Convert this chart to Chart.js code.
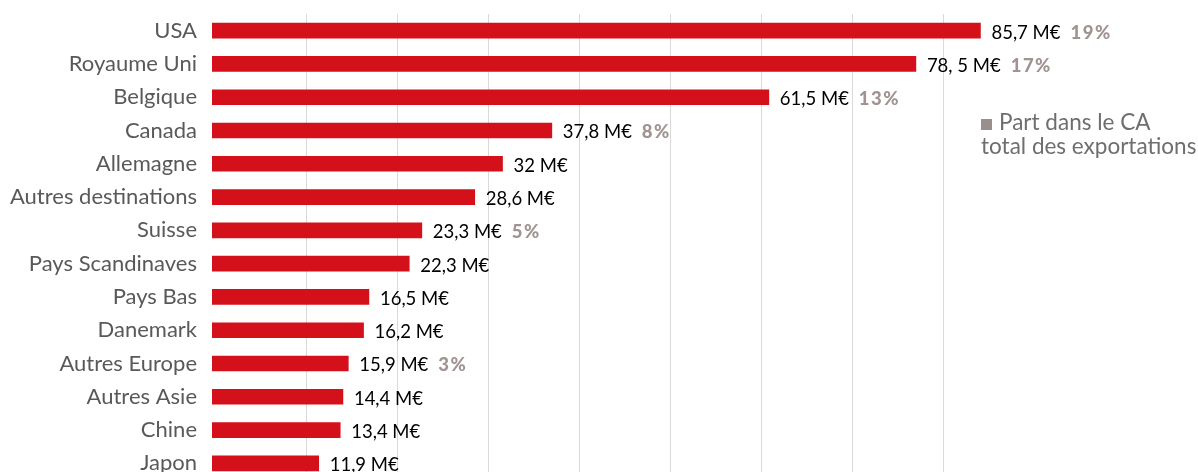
<!DOCTYPE html>
<html>
<head>
<meta charset="utf-8">
<script src="https://cdn.jsdelivr.net/npm/chart.js@4.4.1/dist/chart.umd.min.js"></script>
<style>
  html, body { margin: 0; padding: 0; background: #ffffff; overflow: hidden; }
  #wrap { position: relative; width: 1198px; height: 472px; overflow: hidden; }
  #c { position: absolute; left: 0; top: 0; }
  #legend { position: absolute; left: 981px; top: 110px; font-family: Lato, "Open Sans", sans-serif; font-size: 22.5px; line-height: 24px; color: #6e6e6e; white-space: nowrap; }
  #legend .sq { display: inline-block; width: 11px; height: 11px; background: #9b8f8d; margin-right: 7px; vertical-align: 0px; }
</style>
</head>
<body>
<div id="wrap">
  <canvas id="c" width="1198" height="480"></canvas>
  <div id="legend"><span class="sq"></span>Part dans le CA<br>total des exportations</div>
</div>
<script>
const categories = ["USA", "Royaume Uni", "Belgique", "Canada", "Allemagne", "Autres destinations", "Suisse", "Pays Scandinaves", "Pays Bas", "Danemark", "Autres Europe", "Autres Asie", "Chine", "Japon"];
const values = [85.7, 78.5, 62.1, 37.9, 32.4, 29.3, 23.4, 22.0, 17.5, 16.9, 15.2, 14.6, 14.3, 11.9];
const valueLabels = ["85,7 M€", "78, 5 M€", "61,5 M€", "37,8 M€", "32 M€", "28,6 M€", "23,3 M€", "22,3 M€", "16,5 M€", "16,2 M€", "15,9 M€", "14,4 M€", "13,4 M€", "11,9 M€"];
const shares = ["19%", "17%", "13%", "8%", null, null, "5%", null, null, null, "3%", null, null, null];
const gridStep = 10;

const labelPlugin = {
  id: 'valueLabels',
  afterDatasetsDraw(chart) {
    const ctx = chart.ctx;
    const meta = chart.getDatasetMeta(0);
    ctx.save();
    ctx.textBaseline = 'middle';
    ctx.textAlign = 'left';
    meta.data.forEach((bar, i) => {
      const x = bar.x + 11;
      const y = bar.y + 2;
      ctx.font = '18.5px Lato, "Open Sans", sans-serif';
      ctx.fillStyle = '#000000';
      ctx.letterSpacing = '0px';
      ctx.fillText(valueLabels[i], x, y);
      const w = ctx.measureText(valueLabels[i]).width;
      if (shares[i]) {
        ctx.font = '900 18.5px Lato, "Open Sans", sans-serif';
        ctx.letterSpacing = '1.5px';
        ctx.fillStyle = '#a09391';
        ctx.fillText(shares[i], x + w + 10, y);
      }
    });
    ctx.restore();
  }
};

new Chart(document.getElementById('c'), {
  type: 'bar',
  data: {
    labels: categories,
    datasets: [{
      data: values,
      backgroundColor: '#d4111a',
      barThickness: 15,
      xAxisID: 'x',
      yAxisID: 'y'
    }]
  },
  options: {
    indexAxis: 'y',
    responsive: false,
    animation: false,
    devicePixelRatio: 1,
    layout: { padding: { top: 14, right: 179, bottom: 0, left: 0 } },
    plugins: { legend: { display: false }, tooltip: { enabled: false } },
    scales: {
      x: {
        type: 'linear', min: 0, max: 90, display: false
      },
      x2: {
        type: 'linear', position: 'top', min: -0.33, max: 88.35,
        ticks: { display: false, stepSize: gridStep },
        border: { display: false },
        grid: {
          drawTicks: false,
          lineWidth: 1,
          color: (c) => (c.tick && Math.abs(c.tick.value % gridStep) < 1e-6 && c.tick.value >= 0) ? '#d9d9d9' : 'rgba(0,0,0,0)'
        },
        afterFit: (s) => { s.height = 0; s.paddingLeft = 0; s.paddingRight = 0; }
      },
      y: {
        type: 'category',
        grid: { display: false },
        border: { display: false },
        ticks: { color: '#595959', font: { family: 'Lato, "Open Sans", sans-serif', size: 22 }, padding: 7 },
        afterFit: (s) => { s.width = 212; s.paddingTop = 0; s.paddingBottom = 0; }
      }
    }
  },
  plugins: [labelPlugin]
});
</script>
</body>
</html>
